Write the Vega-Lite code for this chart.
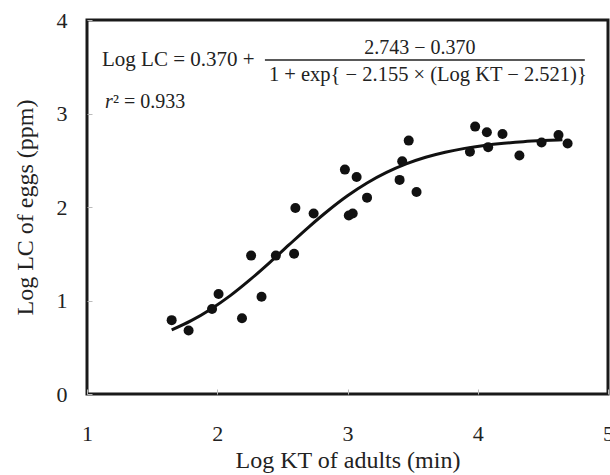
{
  "$schema": "https://vega.github.io/schema/vega-lite/v6.json",
  "width": 521,
  "height": 374,
  "autosize": {"type": "none"},
  "padding": {"left": 87, "top": 20, "right": 2, "bottom": 81},
  "background": "white",
  "config": {
    "view": {"stroke": "#1a1a1a", "strokeWidth": 3},
    "font": "Liberation Serif",
    "axis": {
      "labelFont": "Liberation Serif",
      "titleFont": "Liberation Serif",
      "labelFontSize": 22,
      "titleFontSize": 24,
      "labelColor": "#222",
      "titleColor": "#222",
      "titleFontWeight": "normal",
      "grid": false,
      "domain": false,
      "tickColor": "#bbbbbb",
      "tickSize": -5,
      "tickWidth": 1,
      "format": "d"
    }
  },
  "datasets": {
    "points": [
      {"kt": 1.65, "lc": 0.79},
      {"kt": 1.78, "lc": 0.68},
      {"kt": 1.96, "lc": 0.91},
      {"kt": 2.01, "lc": 1.07},
      {"kt": 2.19, "lc": 0.81},
      {"kt": 2.26, "lc": 1.48},
      {"kt": 2.34, "lc": 1.04},
      {"kt": 2.45, "lc": 1.48},
      {"kt": 2.59, "lc": 1.50},
      {"kt": 2.60, "lc": 1.99},
      {"kt": 2.74, "lc": 1.93},
      {"kt": 2.98, "lc": 2.40},
      {"kt": 3.07, "lc": 2.32},
      {"kt": 3.01, "lc": 1.91},
      {"kt": 3.04, "lc": 1.93},
      {"kt": 3.15, "lc": 2.10},
      {"kt": 3.40, "lc": 2.29},
      {"kt": 3.42, "lc": 2.49},
      {"kt": 3.47, "lc": 2.71},
      {"kt": 3.53, "lc": 2.16},
      {"kt": 3.98, "lc": 2.86},
      {"kt": 4.07, "lc": 2.80},
      {"kt": 4.19, "lc": 2.78},
      {"kt": 3.94, "lc": 2.59},
      {"kt": 4.08, "lc": 2.64},
      {"kt": 4.32, "lc": 2.55},
      {"kt": 4.49, "lc": 2.69},
      {"kt": 4.62, "lc": 2.77},
      {"kt": 4.69, "lc": 2.68}
    ],
    "curve": [
      {"kt": 1.65, "lc": 0.685},
      {"kt": 1.80, "lc": 0.784},
      {"kt": 1.95, "lc": 0.907},
      {"kt": 2.10, "lc": 1.052},
      {"kt": 2.25, "lc": 1.220},
      {"kt": 2.40, "lc": 1.403},
      {"kt": 2.55, "lc": 1.594},
      {"kt": 2.70, "lc": 1.783},
      {"kt": 2.85, "lc": 1.960},
      {"kt": 3.00, "lc": 2.120},
      {"kt": 3.15, "lc": 2.257},
      {"kt": 3.30, "lc": 2.370},
      {"kt": 3.45, "lc": 2.461},
      {"kt": 3.60, "lc": 2.532},
      {"kt": 3.75, "lc": 2.586},
      {"kt": 3.90, "lc": 2.627},
      {"kt": 4.05, "lc": 2.658},
      {"kt": 4.20, "lc": 2.681},
      {"kt": 4.35, "lc": 2.698},
      {"kt": 4.50, "lc": 2.710},
      {"kt": 4.65, "lc": 2.719}
    ]
  },
  "layer": [
    {
      "data": {"name": "curve"},
      "mark": {"type": "line", "color": "#111", "strokeWidth": 3, "interpolate": "monotone"},
      "encoding": {
        "x": {
          "field": "kt", "type": "quantitative",
          "scale": {"domain": [1, 5], "nice": false},
          "axis": {"values": [1, 2, 3, 4, 5], "labelPadding": 34, "title": "Log KT of adults (min)", "titlePadding": 4, "labelFlush": false}
        },
        "y": {
          "field": "lc", "type": "quantitative",
          "scale": {"domain": [0, 4], "nice": false},
          "axis": {"values": [0, 1, 2, 3, 4], "labelPadding": 25, "title": "Log LC of eggs (ppm)", "titlePadding": 19, "labelFlush": false}
        }
      }
    },
    {
      "data": {"name": "points"},
      "mark": {"type": "point", "filled": true, "color": "#111", "size": 100, "opacity": 1},
      "encoding": {
        "x": {"field": "kt", "type": "quantitative"},
        "y": {"field": "lc", "type": "quantitative"}
      }
    },
    {
      "data": {"values": [{"t": "Log LC = 0.370 +"}]},
      "mark": {"type": "text", "align": "left", "baseline": "middle", "fontSize": 21, "color": "#222", "font": "Liberation Serif"},
      "encoding": {"x": {"datum": 1.115}, "y": {"datum": 3.572}, "text": {"field": "t"}}
    },
    {
      "data": {"values": [{"t": "2.743 − 0.370"}]},
      "mark": {"type": "text", "align": "center", "baseline": "middle", "fontSize": 20, "color": "#222", "font": "Liberation Serif"},
      "encoding": {"x": {"datum": 3.556}, "y": {"datum": 3.704}, "text": {"field": "t"}}
    },
    {
      "data": {"values": [{"t": "1 + exp{ − 2.155 × (Log KT − 2.521)}"}]},
      "mark": {"type": "text", "align": "left", "baseline": "middle", "fontSize": 20.5, "color": "#222", "font": "Liberation Serif"},
      "encoding": {"x": {"datum": 2.397}, "y": {"datum": 3.412}, "text": {"field": "t"}}
    },
    {
      "data": {"values": [{"a": 2.366, "b": 4.822, "y": 3.572}]},
      "mark": {"type": "rule", "color": "#222", "strokeWidth": 1.5},
      "encoding": {"x": {"field": "a", "type": "quantitative"}, "x2": {"field": "b"}, "y": {"field": "y", "type": "quantitative"}}
    },
    {
      "data": {"values": [{"t": "r"}]},
      "mark": {"type": "text", "align": "left", "baseline": "middle", "fontSize": 20, "fontStyle": "italic", "color": "#222", "font": "Liberation Serif"},
      "encoding": {"x": {"datum": 1.138}, "y": {"datum": 3.123}, "text": {"field": "t"}}
    },
    {
      "data": {"values": [{"t": "² = 0.933"}]},
      "mark": {"type": "text", "align": "left", "baseline": "middle", "fontSize": 20, "color": "#222", "font": "Liberation Serif"},
      "encoding": {"x": {"datum": 1.2}, "y": {"datum": 3.123}, "text": {"field": "t"}}
    }
  ]
}
